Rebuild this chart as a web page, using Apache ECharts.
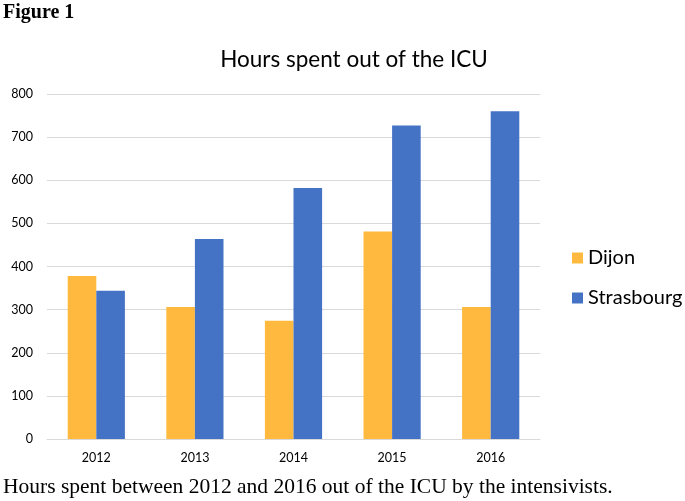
<!DOCTYPE html>
<html>
<head>
<meta charset="utf-8">
<script src="https://cdn.jsdelivr.net/npm/echarts@6/dist/echarts.min.js"></script>
<style>html,body{margin:0;padding:0;background:#fff;}#c{width:685px;height:501px;}</style>
</head>
<body>
<div id="c"></div>
<script>
const categories = ['2012', '2013', '2014', '2015', '2016'];
const dijon = [378, 306, 274, 481, 306];
const strasbourg = [344, 464, 582, 727, 760];
const yTicks = [0, 100, 200, 300, 400, 500, 600, 700, 800];

const chart = echarts.init(document.getElementById('c'));
chart.setOption({
  backgroundColor: '#fff',
  animation: false,
  title: [
    { text: 'Figure 1', left: -2, top: -2, textStyle: { fontFamily: 'Liberation Serif', fontWeight: 'bold', fontSize: 20, color: '#000' } },
    { text: 'Hours spent out of the ICU', left: 349, textAlign: 'center', top: 43, textStyle: { fontFamily: 'Lato', fontWeight: 'normal', fontSize: 22.5, color: '#000' } },
    { text: 'Hours spent between 2012 and 2016 out of the ICU by the intensivists.', left: -2, top: 471, textStyle: { fontFamily: 'Liberation Serif', fontWeight: 'normal', fontSize: 21.5, color: '#000' } }
  ],
  legend: {
    orient: 'vertical', left: 567, top: 243, itemWidth: 11, itemHeight: 11, itemGap: 20,
    icon: 'rect',
    textStyle: { fontFamily: 'Lato', fontSize: 20, color: '#000', padding: [0, 0, 0, 0] },
    data: ['Dijon', 'Strasbourg']
  },
  grid: { left: 47, right: 145, top: 94, bottom: 62 },
  xAxis: {
    type: 'category', data: categories,
    axisLine: { lineStyle: { color: '#d9d9d9', width: 1 } },
    axisTick: { show: false },
    axisLabel: { fontFamily: 'Lato', fontSize: 12.5, color: '#000', margin: 12 }
  },
  yAxis: {
    type: 'value', min: yTicks[0], max: yTicks[yTicks.length - 1], interval: 100,
    axisLine: { show: false }, axisTick: { show: false },
    splitLine: { lineStyle: { color: '#d9d9d9', width: 1 } },
    axisLabel: { fontFamily: 'Lato', fontSize: 12.5, color: '#000', margin: 14 }
  },
  series: [
    { name: 'Dijon', type: 'bar', data: dijon, barGap: '0%', barCategoryGap: '42%', itemStyle: { color: '#FFB93F' } },
    { name: 'Strasbourg', type: 'bar', data: strasbourg, barGap: '0%', barCategoryGap: '42%', itemStyle: { color: '#4472C4' } }
  ]
});
</script>
</body>
</html>
